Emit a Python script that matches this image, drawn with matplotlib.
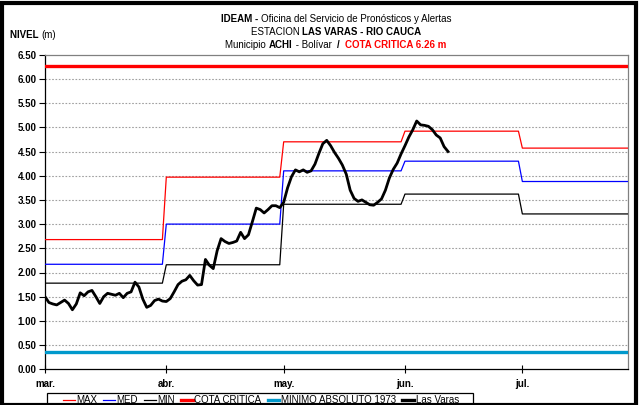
import matplotlib
matplotlib.use("Agg")
import matplotlib.pyplot as plt
import numpy as np
from matplotlib.lines import Line2D
from matplotlib.patches import Rectangle

plt.rcParams["font.family"] = ["Liberation Sans", "DejaVu Sans"]

# month ticks (day index from 1 March)
month_labels = ["mar.", "abr.", "may.", "jun.", "jul."]
month_starts = [0, 31, 61, 92, 122]
month_days = [31, 30, 31, 30, 31]

# monthly historical reference levels (m)
nivel_max = [2.68, 3.97, 4.70, 4.92, 4.57]
nivel_med = [2.17, 3.00, 4.10, 4.30, 3.88]
nivel_min = [1.78, 2.16, 3.41, 3.62, 3.21]
cota_critica = 6.26
minimo_absoluto = 0.36

# daily stage at Las Varas from 1 March
las_varas = [
    1.50, 1.38, 1.35, 1.33, 1.38, 1.43, 1.36, 1.23, 1.35, 1.58,
    1.52, 1.60, 1.63, 1.50, 1.36, 1.50, 1.57, 1.55, 1.53, 1.57,
    1.48, 1.57, 1.60, 1.80, 1.70, 1.45, 1.28, 1.32, 1.42, 1.45,
    1.41, 1.40, 1.46, 1.60, 1.75, 1.82, 1.85, 1.94, 1.83, 1.74,
    1.75, 2.27, 2.15, 2.08, 2.45, 2.70, 2.64, 2.60, 2.62, 2.65,
    2.83, 2.70, 2.78, 3.05, 3.33, 3.30, 3.23, 3.30, 3.38, 3.38,
    3.34, 3.45, 3.75, 3.98, 4.12, 4.08, 4.12, 4.07, 4.10, 4.24,
    4.46, 4.66, 4.73, 4.62, 4.48, 4.36, 4.22, 4.03, 3.70, 3.53,
    3.47, 3.50, 3.45, 3.40, 3.39, 3.45, 3.52, 3.70, 3.95, 4.13,
    4.26, 4.45, 4.62, 4.80, 4.95, 5.13, 5.05, 5.04, 5.02, 4.95,
    4.84, 4.78, 4.60, 4.50,
]

XMAX = 149
days = np.arange(XMAX + 1)


def daily(monthly):
    return np.repeat(monthly, month_days)[: XMAX + 1]


fig = plt.figure(figsize=(6.4, 4.05), dpi=100)
ax = fig.add_axes([45 / 640, 1 - 369.3 / 405, (628 - 45) / 640, (369.3 - 54.7) / 405])

for lvl in np.arange(0.5, 6.5, 0.5):
    ax.axhline(lvl, color="#a0a0a0", lw=0.8, ls=(0, (1.5, 1.5)), zorder=1)

ax.plot(days, daily(nivel_max), color="#ff0000", lw=0.9, zorder=3)
ax.plot(days, daily(nivel_med), color="#0000ff", lw=0.9, zorder=3)
ax.plot(days, daily(nivel_min), color="black", lw=0.9, zorder=3)
ax.axhline(cota_critica, color="#ff0000", lw=2.4, zorder=3)
ax.axhline(minimo_absoluto, color="#0099cc", lw=2.4, zorder=3)
ax.plot(np.arange(len(las_varas)), las_varas, color="black", lw=2.0,
        solid_joinstyle="round", zorder=4)

ax.set_xlim(0, XMAX)
ax.set_ylim(0, 6.5)
ax.set_yticks(np.arange(0, 6.51, 0.5))
ax.set_yticklabels([f"{v:.2f}" for v in np.arange(0, 6.51, 0.5)],
                   fontweight="bold", fontsize=7)
ax.set_xticks(month_starts)
ax.set_xticklabels(month_labels, fontweight="bold", fontsize=7)
ax.tick_params(axis="y", direction="out", length=4, width=0.8, pad=2)
ax.tick_params(axis="x", direction="inout", length=6, width=0.8, pad=4)
ax.spines["left"].set_color("black")
ax.spines["bottom"].set_color("black")
ax.spines["top"].set_color("#808080")
ax.spines["right"].set_color("#808080")
for s in ax.spines.values():
    s.set_linewidth(0.9)

# outer frame
fig.patches.append(Rectangle((2 / 640, 0), 634 / 640, 1 - 3 / 405, transform=fig.transFigure,
                             fill=False, edgecolor="black", lw=3, zorder=10))


def rich_line(y_px, parts, x_px, size=7, center=True):
    texts = [fig.text(0, 1 - y_px / 405, s, fontweight=w, color=c, fontsize=size,
                      va="baseline", ha="left") for s, w, c in parts]
    fig.canvas.draw()
    r = fig.canvas.get_renderer()
    widths = [t.get_window_extent(r).width for t in texts]
    x = x_px - sum(widths) / 2 if center else x_px
    for t, w in zip(texts, widths):
        t.set_x(x / 640)
        x += w


cx = 336
rich_line(22, [("IDEAM - ", "bold", "black"),
               ("Oficina del Servicio de Pronósticos y Alertas", "normal", "black")], cx)
rich_line(35, [("ESTACION ", "normal", "black"),
               ("LAS VARAS - RIO CAUCA", "bold", "black")], cx)
rich_line(48, [("Municipio ", "normal", "black"), ("ACHI", "bold", "black"),
               (" - Bolívar  ", "normal", "black"), ("/  ", "bold", "black"),
               ("COTA CRITICA 6.26 m", "bold", "#ff0000")], cx)
rich_line(38, [("NIVEL ", "bold", "black"), ("(m)", "normal", "black")], 10, center=False)

handles = [
    Line2D([], [], color="#ff0000", lw=0.9),
    Line2D([], [], color="#0000ff", lw=0.9),
    Line2D([], [], color="black", lw=0.9),
    Line2D([], [], color="#ff0000", lw=2.4),
    Line2D([], [], color="#0099cc", lw=2.4),
    Line2D([], [], color="black", lw=2.4),
]
labels = ["MAX", "MED", "MIN", "COTA CRITICA", "MINIMO ABSOLUTO 1973", "Las Varas"]
leg = fig.legend(handles, labels, loc="upper left", ncol=6,
                 bbox_to_anchor=(60 / 640, 1 - 392 / 405),
                 fontsize=7, frameon=False, handlelength=1.2,
                 handletextpad=0.15, columnspacing=0.65, borderpad=0.3, borderaxespad=0)
# legend box drawn separately so it can be wider than its entries
fig.patches.append(Rectangle((47 / 640, -0.01), (473 - 47) / 640, 0.01 + 1 - 392.5 / 405,
                             transform=fig.transFigure, fill=False, edgecolor="black",
                             lw=0.9, zorder=9))

fig.savefig("out.png", dpi=100)
